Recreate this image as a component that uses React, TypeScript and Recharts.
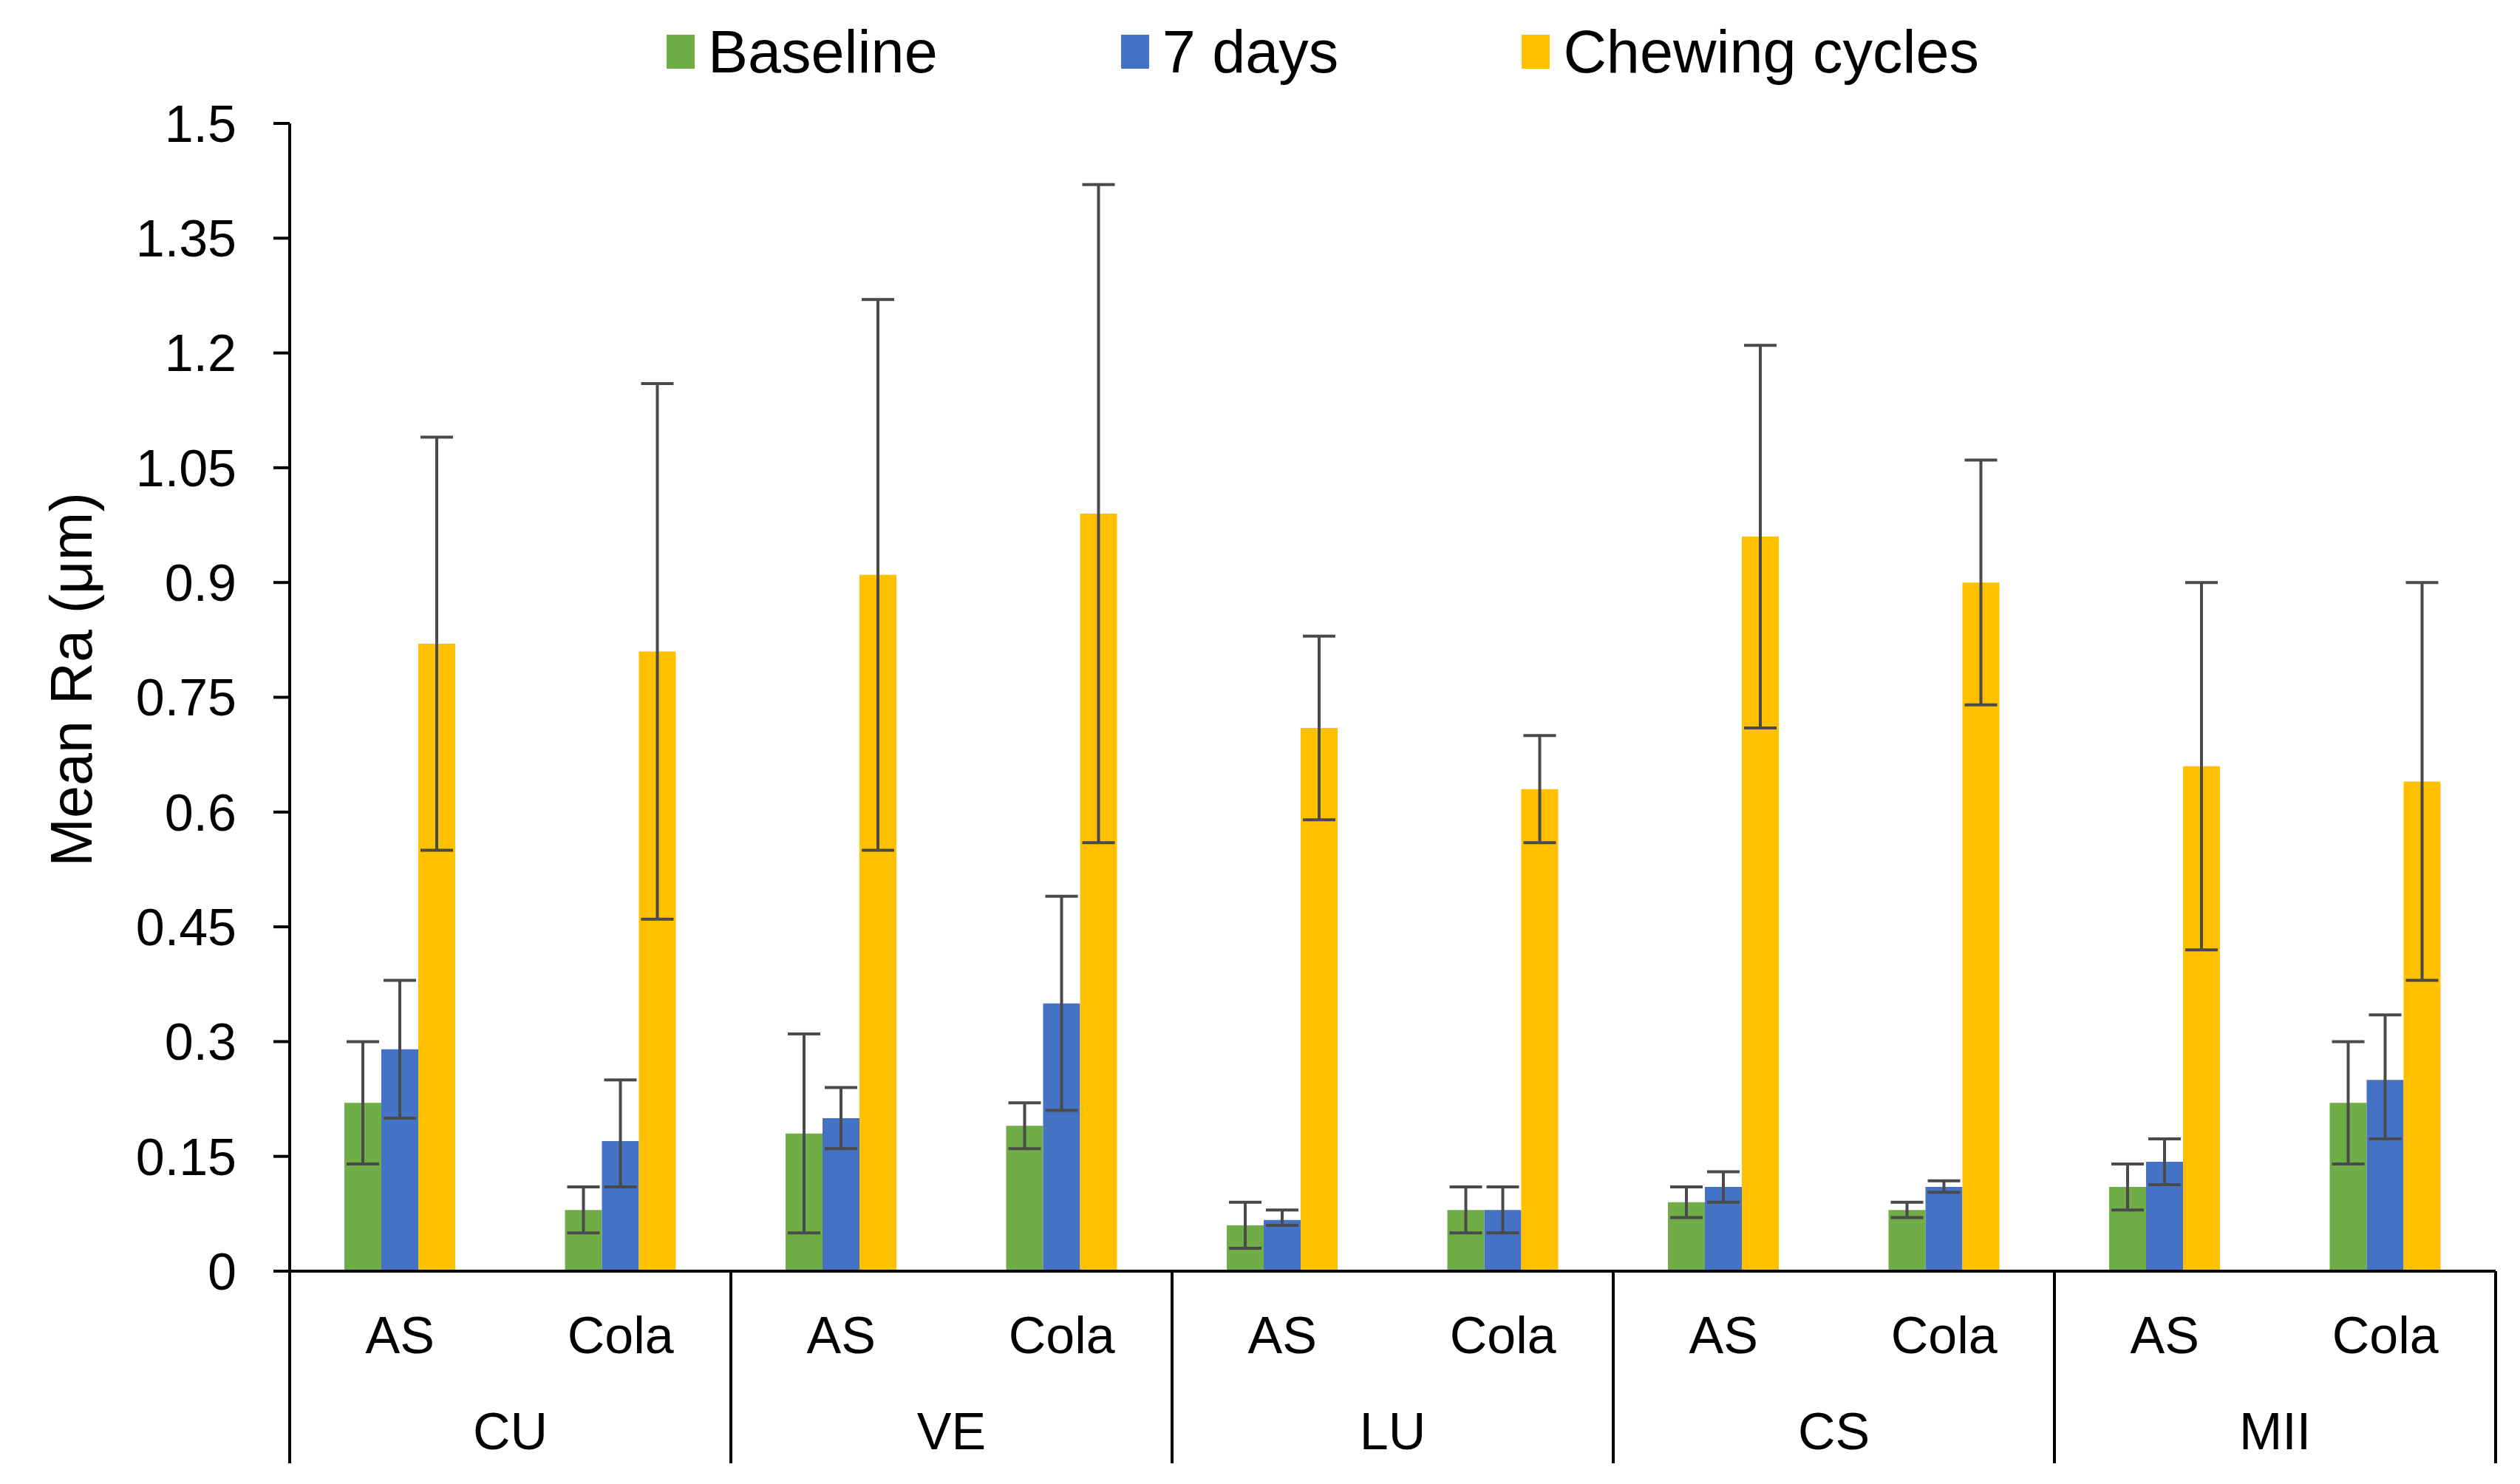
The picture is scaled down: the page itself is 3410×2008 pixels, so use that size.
import React from 'react';
import { BarChart, Bar, XAxis, YAxis, ErrorBar, Legend } from 'recharts';

// values (mean Ra in µm, error bar ends as low / high)
const subLabels = ['AS', 'Cola', 'AS', 'Cola', 'AS', 'Cola', 'AS', 'Cola', 'AS', 'Cola'];
const groupLabels = ['CU', 'CU', 'VE', 'VE', 'LU', 'LU', 'CS', 'CS', 'MII', 'MII'];

const baseline = [0.22, 0.08, 0.18, 0.19, 0.06, 0.08, 0.09, 0.08, 0.11, 0.22];
const baselineLow = [0.14, 0.05, 0.05, 0.16, 0.03, 0.05, 0.07, 0.07, 0.08, 0.14];
const baselineHigh = [0.3, 0.11, 0.31, 0.22, 0.09, 0.11, 0.11, 0.09, 0.14, 0.3];

const days7 = [0.29, 0.17, 0.2, 0.35, 0.067, 0.08, 0.11, 0.11, 0.143, 0.25];
const days7Low = [0.2, 0.11, 0.16, 0.21, 0.06, 0.05, 0.09, 0.103, 0.113, 0.173];
const days7High = [0.38, 0.25, 0.24, 0.49, 0.08, 0.11, 0.13, 0.118, 0.173, 0.335];

const chewing = [0.82, 0.81, 0.91, 0.99, 0.71, 0.63, 0.96, 0.9, 0.66, 0.64];
const chewingLow = [0.55, 0.46, 0.55, 0.56, 0.59, 0.56, 0.71, 0.74, 0.42, 0.38];
const chewingHigh = [1.09, 1.16, 1.27, 1.42, 0.83, 0.7, 1.21, 1.06, 0.9, 0.9];

const yTicks = [0, 0.15, 0.3, 0.45, 0.6, 0.75, 0.9, 1.05, 1.2, 1.35, 1.5];

const series = [
  { key: 'baseline', name: 'Baseline', color: '#70AD47' },
  { key: 'days7', name: '7 days', color: '#4472C4' },
  { key: 'chewing', name: 'Chewing cycles', color: '#FFC000' },
];

const data = subLabels.map((sub, i) => ({
  sub,
  group: groupLabels[i],
  baseline: baseline[i],
  baselineErr: [baseline[i] - baselineLow[i], baselineHigh[i] - baseline[i]],
  days7: days7[i],
  days7Err: [days7[i] - days7Low[i], days7High[i] - days7[i]],
  chewing: chewing[i],
  chewingErr: [chewing[i] - chewingLow[i], chewingHigh[i] - chewing[i]],
}));

const FONT = '"Liberation Sans", Arial, sans-serif';

function CategoryTick(props: any) {
  const { x, y, payload, index, width, visibleTicksCount } = props;
  const half = payload.offset ? payload.offset : width / visibleTicksCount / 2;
  const firstOfGroup = index % 2 === 0;
  const last = index === data.length - 1;
  return (
    <g>
      <text x={x} y={y + 111} textAnchor="middle" fontSize={70} fill="#000">
        {payload.value}
      </text>
      {firstOfGroup && (
        <>
          <line x1={x - half} y1={y} x2={x - half} y2={y + 260} stroke="#000" strokeWidth={4} />
          <text x={x + half} y={y + 241} textAnchor="middle" fontSize={70} fill="#000">
            {data[index].group}
          </text>
        </>
      )}
      {last && <line x1={x + half} y1={y} x2={x + half} y2={y + 260} stroke="#000" strokeWidth={4} />}
    </g>
  );
}

function YTitle(props: any) {
  const { viewBox } = props;
  const cx = 96;
  const cy = viewBox.y + viewBox.height / 2 - 24;
  return (
    <text
      x={cx}
      y={cy}
      transform={`rotate(-90, ${cx}, ${cy})`}
      textAnchor="middle"
      dominantBaseline="central"
      fontSize={79}
      fill="#000"
    >
      Mean Ra (μm)
    </text>
  );
}

function LegendContent(props: any) {
  const items = series.map((s) => {
    const hit = (props.payload || []).find((p: any) => p.dataKey === s.key);
    return { value: s.name, color: hit ? hit.color : s.color };
  });
  return (
    <div
      style={{
        position: 'absolute',
        left: 902,
        top: 28,
        display: 'flex',
        alignItems: 'center',
        whiteSpace: 'nowrap',
        fontFamily: FONT,
      }}
    >
      {items.map((entry, i) => (
        <div
          key={entry.value}
          style={{ display: 'flex', alignItems: 'center', marginRight: i < items.length - 1 ? 248 : 0 }}
        >
          <span style={{ display: 'inline-block', width: 38, height: 46, background: entry.color, marginRight: 18 }} />
          <span style={{ fontSize: 81, lineHeight: '84px', color: '#000' }}>{entry.value}</span>
        </div>
      ))}
    </div>
  );
}

export default function App() {
  return (
    <div style={{ position: 'absolute', left: 0, top: 0, width: 3410, height: 2008, background: '#fff', fontFamily: FONT }}>
      <BarChart
        width={3410}
        height={2008}
        data={data}
        margin={{ top: 167, right: 33, left: 0, bottom: 0 }}
        barGap={0}
        barSize={50}
      >
        <XAxis
          dataKey="sub"
          interval={0}
          height={288}
          tickSize={0}
          tickMargin={0}
          tickLine={false}
          axisLine={{ stroke: '#000', strokeWidth: 4 }}
          tick={<CategoryTick />}
        />
        <YAxis
          width={392}
          domain={[0, 1.5]}
          ticks={yTicks}
          interval={0}
          tickSize={22}
          tickMargin={50}
          axisLine={{ stroke: '#000', strokeWidth: 4 }}
          tickLine={{ stroke: '#000', strokeWidth: 4 }}
          tick={{ fontSize: 70, fill: '#000' }}
          label={<YTitle />}
        />
        <Legend
          verticalAlign="top"
          content={<LegendContent />}
          wrapperStyle={{ top: 0, left: 0, width: 0, height: 0 }}
        />
        {series.map((s) => (
          <Bar key={s.key} dataKey={s.key} name={s.name} fill={s.color} isAnimationActive={false}>
            <ErrorBar dataKey={`${s.key}Err`} width={22} stroke="#4a4a4a" strokeWidth={4} direction="y" />
          </Bar>
        ))}
      </BarChart>
    </div>
  );
}
